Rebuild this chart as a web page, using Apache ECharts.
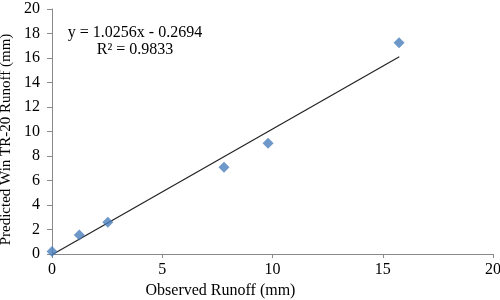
<!DOCTYPE html>
<html>
<head>
<meta charset="utf-8">
<script src="https://cdn.jsdelivr.net/npm/echarts@6/dist/echarts.min.js"></script>
<style>
  html, body { margin: 0; padding: 0; background: #fff; }
  #chart { width: 500px; height: 300px; }
</style>
</head>
<body>
<div id="chart"></div>
<script>
// observed vs predicted runoff (mm)
const observed = [0, 1.24, 2.53, 7.8, 9.8, 15.74]
const predicted = [0.2, 1.55, 2.59, 7.08, 9.04, 17.25]
// trend line end points
const trendX = [0, 15.75]
const trendY = [-0.06, 16.1]
const equationText = 'y = 1.0256x - 0.2694\nR² = 0.9833'

const font = 'Liberation Serif'
const axisColor = '#898989'

var myChart = echarts.init(document.getElementById('chart'))

var option = {
  animation: false,
  grid: { left: 52, right: 7, top: 9, bottom: 46, outerBoundsMode: 'none' },
  xAxis: {
    type: 'value',
    min: 0,
    max: 20,
    interval: 5,
    name: 'Observed Runoff (mm)',
    nameLocation: 'middle',
    nameGap: 28,
    nameTextStyle: { fontFamily: font, fontSize: 16, color: '#000', padding: [0, 104, 0, 0] },
    axisLine: { show: true, lineStyle: { color: axisColor } },
    axisTick: { show: true, length: 4, lineStyle: { color: axisColor } },
    axisLabel: { fontFamily: font, fontSize: 16, color: '#000', margin: 8 },
    splitLine: { show: false }
  },
  yAxis: {
    type: 'value',
    min: 0,
    max: 20,
    interval: 2,
    name: 'Predicted Win TR-20 Runoff (mm)',
    nameLocation: 'middle',
    nameGap: 30,
    nameTextStyle: { fontFamily: font, fontSize: 15, color: '#000', padding: [0, 16, 0, 0] },
    axisLine: { show: true, lineStyle: { color: axisColor } },
    axisTick: { show: true, length: 5, lineStyle: { color: axisColor } },
    axisLabel: { fontFamily: font, fontSize: 16, color: '#000', margin: 12 },
    splitLine: { show: false }
  },
  graphic: [{
    type: 'text',
    x: 135,
    y: 24,
    style: {
      text: equationText,
      fontFamily: font,
      fontSize: 16,
      fill: '#000',
      align: 'center',
      lineHeight: 17
    }
  }],
  series: [
    {
      type: 'line',
      data: trendX.map((x, i) => [x, trendY[i]]),
      symbol: 'none',
      clip: true,
      lineStyle: { color: '#222', width: 1.2 },
      z: 1
    },
    {
      type: 'scatter',
      data: observed.map((x, i) => [x, predicted[i]]),
      symbol: 'diamond',
      symbolSize: 11,
      itemStyle: { color: '#4a7ebb' },
      clip: false,
      z: 2
    }
  ]
}
option && myChart.setOption(option)
</script>
</body>
</html>
